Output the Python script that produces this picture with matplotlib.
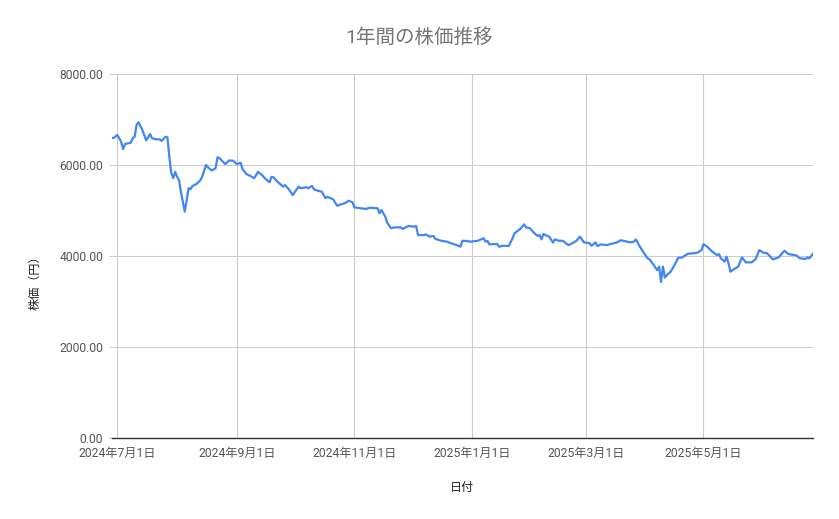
import pandas as pd
import matplotlib.pyplot as plt
import matplotlib.dates as mdates
from matplotlib.ticker import FuncFormatter

plt.rcParams['font.family'] = ['Roboto', 'Noto Sans CJK JP', 'DejaVu Sans']

# 日付と終値
dates = [
    "2024-06-28", "2024-06-29", "2024-07-01", "2024-07-02", "2024-07-03", "2024-07-04",
    "2024-07-05", "2024-07-07", "2024-07-08", "2024-07-09", "2024-07-10", "2024-07-11",
    "2024-07-12", "2024-07-14", "2024-07-16", "2024-07-17", "2024-07-18", "2024-07-19",
    "2024-07-21", "2024-07-23", "2024-07-24", "2024-07-26", "2024-07-27", "2024-07-28",
    "2024-07-29", "2024-07-30", "2024-07-31", "2024-08-01", "2024-08-02", "2024-08-03",
    "2024-08-05", "2024-08-07", "2024-08-08", "2024-08-09", "2024-08-11", "2024-08-13",
    "2024-08-14", "2024-08-16", "2024-08-17", "2024-08-19", "2024-08-21", "2024-08-22",
    "2024-08-23", "2024-08-26", "2024-08-28", "2024-08-30", "2024-09-01", "2024-09-03",
    "2024-09-04", "2024-09-06", "2024-09-08", "2024-09-10", "2024-09-12", "2024-09-14",
    "2024-09-16", "2024-09-18", "2024-09-19", "2024-09-20", "2024-09-22", "2024-09-25",
    "2024-09-26", "2024-09-28", "2024-09-30", "2024-10-03", "2024-10-04", "2024-10-07",
    "2024-10-08", "2024-10-10", "2024-10-11", "2024-10-13", "2024-10-15", "2024-10-17",
    "2024-10-18", "2024-10-21", "2024-10-23", "2024-10-25", "2024-10-27", "2024-10-29",
    "2024-10-31", "2024-11-01", "2024-11-04", "2024-11-07", "2024-11-09", "2024-11-13",
    "2024-11-14", "2024-11-15", "2024-11-17", "2024-11-18", "2024-11-20", "2024-11-22",
    "2024-11-25", "2024-11-26", "2024-11-29", "2024-12-02", "2024-12-03", "2024-12-04",
    "2024-12-07", "2024-12-08", "2024-12-10", "2024-12-12", "2024-12-13", "2024-12-16",
    "2024-12-19", "2024-12-21", "2024-12-24", "2024-12-26", "2024-12-27", "2024-12-29",
    "2024-12-31", "2025-01-04", "2025-01-07", "2025-01-08", "2025-01-09", "2025-01-10",
    "2025-01-14", "2025-01-15", "2025-01-17", "2025-01-20", "2025-01-22", "2025-01-23",
    "2025-01-26", "2025-01-28", "2025-01-29", "2025-01-31", "2025-02-02", "2025-02-04",
    "2025-02-05", "2025-02-06", "2025-02-07", "2025-02-08", "2025-02-10", "2025-02-12",
    "2025-02-13", "2025-02-15", "2025-02-17", "2025-02-20", "2025-02-22", "2025-02-24",
    "2025-02-26", "2025-02-28", "2025-03-03", "2025-03-04", "2025-03-06", "2025-03-07",
    "2025-03-09", "2025-03-12", "2025-03-14", "2025-03-17", "2025-03-19", "2025-03-21",
    "2025-03-24", "2025-03-26", "2025-03-27", "2025-03-29", "2025-03-31", "2025-04-02",
    "2025-04-03", "2025-04-05", "2025-04-07", "2025-04-08", "2025-04-09", "2025-04-10",
    "2025-04-11", "2025-04-12", "2025-04-14", "2025-04-16", "2025-04-18", "2025-04-20",
    "2025-04-21", "2025-04-23", "2025-04-26", "2025-04-28", "2025-04-30", "2025-05-01",
    "2025-05-03", "2025-05-05", "2025-05-08", "2025-05-09", "2025-05-10", "2025-05-12",
    "2025-05-13", "2025-05-14", "2025-05-15", "2025-05-17", "2025-05-19", "2025-05-21",
    "2025-05-23", "2025-05-26", "2025-05-28", "2025-05-30", "2025-06-01", "2025-06-03",
    "2025-06-06", "2025-06-09", "2025-06-12", "2025-06-14", "2025-06-17", "2025-06-18",
    "2025-06-20", "2025-06-23", "2025-06-24", "2025-06-25", "2025-06-27",
]
prices = [
    6600, 6590, 6660, 6590, 6510, 6350,
    6460, 6480, 6490, 6590, 6620, 6880,
    6940, 6770, 6540, 6610, 6680, 6590,
    6565, 6565, 6530, 6620, 6610, 6180,
    5820, 5710, 5850, 5740, 5670, 5410,
    4975, 5490, 5470, 5540, 5580, 5660,
    5740, 6000, 5950, 5880, 5930, 6170,
    6150, 6020, 6100, 6095, 6020, 6050,
    5905, 5800, 5760, 5710, 5850, 5780,
    5690, 5620, 5740, 5730, 5635, 5525,
    5560, 5465, 5340, 5525, 5490, 5510,
    5490, 5540, 5465, 5435, 5415, 5270,
    5300, 5245, 5105, 5135, 5160, 5215,
    5180, 5070, 5050, 5035, 5060, 5050,
    4940, 5010, 4865, 4730, 4610, 4630,
    4630, 4595, 4660, 4645, 4660, 4460,
    4460, 4475, 4425, 4440, 4375, 4335,
    4315, 4280, 4240, 4205, 4335, 4330,
    4315, 4335, 4390, 4315, 4330, 4255,
    4265, 4205, 4225, 4220, 4390, 4500,
    4595, 4695, 4630, 4610, 4515, 4440,
    4460, 4365, 4485, 4460, 4425, 4295,
    4365, 4335, 4335, 4240, 4280, 4330,
    4425, 4300, 4280, 4225, 4300, 4220,
    4255, 4240, 4265, 4295, 4345, 4330,
    4300, 4315, 4365, 4205, 4075, 3950,
    3925, 3815, 3690, 3765, 3430, 3765,
    3525, 3580, 3655, 3800, 3965, 3965,
    4000, 4050, 4060, 4075, 4130, 4260,
    4205, 4115, 4020, 4045, 3950, 3875,
    3985, 3840, 3655, 3715, 3765, 3970,
    3860, 3860, 3925, 4130, 4075, 4060,
    3925, 3970, 4115, 4045, 4020, 4020,
    3950, 3935, 3970, 3950, 4060,
]
y_ticks = [0, 2000, 4000, 6000, 8000]

x = pd.to_datetime(dates)

fig = plt.figure(figsize=(8.39, 5.19), dpi=100)
ax = fig.add_axes([0.1329, 0.1561, 0.8365, 0.7013])

ax.plot(x, prices, color='#4285F4', linewidth=1.6)

ax.set_xlim(x[0], x[-1])
ax.set_ylim(0, 8000)
ax.set_yticks(y_ticks)
ax.yaxis.set_major_formatter(FuncFormatter(lambda v, p: f"{v:.2f}"))

ax.xaxis.set_major_locator(mdates.MonthLocator(bymonth=[1, 3, 5, 7, 9, 11]))
ax.xaxis.set_major_formatter(FuncFormatter(
    lambda v, p: (lambda d: f"{d.year}年{d.month}月{d.day}日")(mdates.num2date(v))))

ax.grid(True, color='#cccccc', linewidth=0.8)
ax.set_axisbelow(True)
for s in ['top', 'right', 'left']:
    ax.spines[s].set_visible(False)
ax.spines['bottom'].set_color('#333333')
ax.spines['bottom'].set_linewidth(1.0)

ax.tick_params(axis='y', length=2, color='#cccccc', pad=4, labelsize=8.7, labelcolor='#555555')
ax.tick_params(axis='x', length=0, pad=6.5, labelsize=8.7, labelcolor='#555555')

fig.text(0.5, 1 - 38 / 519, "1年間の株価推移", ha='center', va='center',
         fontsize=14, color='#757575')
fig.text(462 / 839, 1 - 487 / 519, "日付", ha='center', va='center',
         fontsize=8.7, color='#222222')
fig.text(35 / 839, 1 - 280 / 519, "株価（円）", ha='center', va='center',
         rotation=90, fontsize=8.7, color='#222222')

fig.savefig('out.png', dpi=100)
